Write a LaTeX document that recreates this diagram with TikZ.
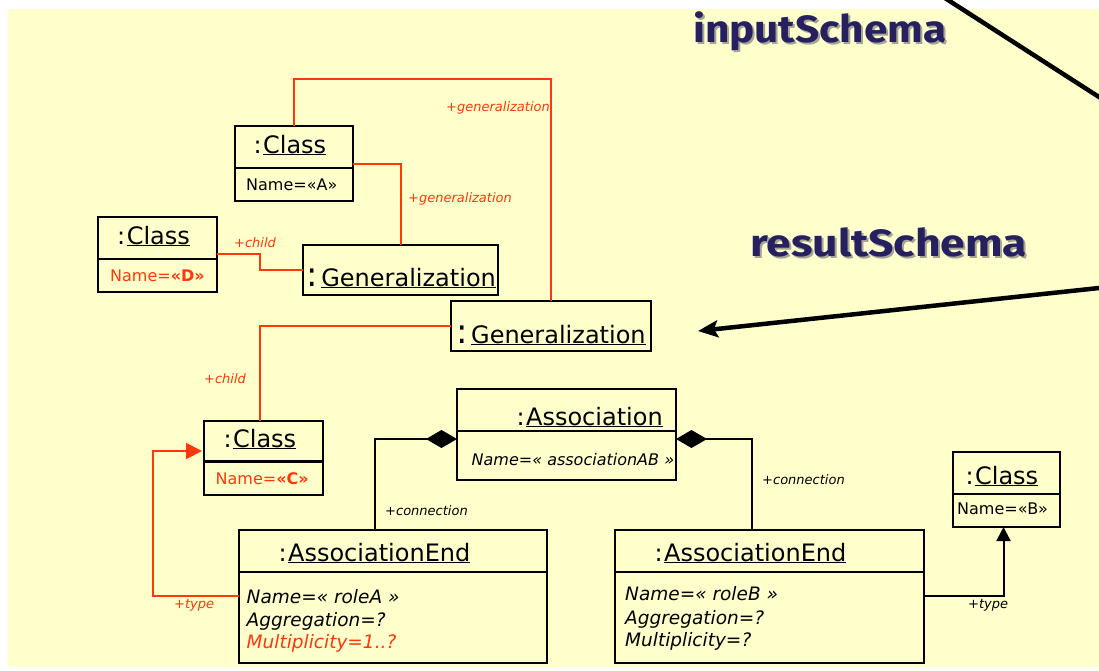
\documentclass[tikz,border=0pt]{standalone}
\usepackage{fontspec}
\setmainfont{DejaVu Sans}
\newfontfamily\titlefont{Fira Sans}
\usetikzlibrary{arrows.meta}
\definecolor{paper}{RGB}{255,255,204}
\definecolor{linkred}{RGB}{255,55,10}
\definecolor{navy}{RGB}{38,32,96}
\definecolor{shade}{RGB}{165,165,150}
% underlined object name with a heavier rule
\newcommand\uln[1]{\setbox0\hbox{#1}\rlap{\rule[-2.4pt]{\wd0}{1.5pt}}\box0}
\tikzset{
  classbox/.style={draw=black, line width=2.6pt, anchor=north west, inner sep=0pt, outer sep=0pt},
  objbox/.style={draw=black, line width=2pt, anchor=north west, inner sep=0pt, outer sep=0pt},
  hdr/.style={anchor=base west, inner sep=0pt, font=\fontsize{24}{26}\selectfont},
  attr/.style={anchor=base west, inner sep=0pt, font=\fontsize{16}{18}\selectfont},
  ital/.style={anchor=base west, inner sep=0pt, font=\fontsize{18.5}{20}\selectfont\itshape},
  smallital/.style={anchor=base west, inner sep=0pt, font=\fontsize{16}{20}\selectfont\itshape},
  role/.style={anchor=base west, inner sep=0pt, font=\fontsize{13}{14}\selectfont\itshape},
  redlink/.style={draw=linkred, line width=2pt},
  link/.style={draw=black, line width=2pt},
  title/.style={anchor=base west, inner sep=0pt, font=\titlefont\bfseries\fontsize{38}{40}\selectfont},
  bigline/.style={draw=black, line width=4.5pt}
}
\begin{document}
\begin{tikzpicture}[x=1pt,y=-1pt]
\fill[white] (0,0) rectangle (1099,670);
\useasboundingbox (0,0) rectangle (1099,670);
\fill[paper] (8,9) rectangle (1099,667);

% ---- titles
\node[title, text=shade] (inS) at (695,44) {\resizebox{253pt}{\height}{inputSchema}};
\node[title, text=navy] (in) at (693,42) {\resizebox{253pt}{\height}{inputSchema}};
\node[title, text=shade] (resS) at (752,258) {\resizebox{277pt}{\height}{resultSchema}};
\node[title, text=navy] (res) at (750,256) {\resizebox{277pt}{\height}{resultSchema}};

% ---- boxes
\node[classbox, minimum width=118pt, minimum height=75pt] (ca) at (235,126) {};
\draw[line width=2.6pt] ([yshift=-42pt]ca.north west) -- ([yshift=-42pt]ca.north east);
\node[classbox, minimum width=119pt, minimum height=75pt] (cd) at (98,217) {};
\draw[line width=2.6pt] ([yshift=-42pt]cd.north west) -- ([yshift=-42pt]cd.north east);
\node[objbox, minimum width=195pt, minimum height=50pt] (g1) at (303,245) {};
\node[objbox, minimum width=200pt, minimum height=50pt] (g2) at (451,301) {};
\node[classbox, minimum width=119pt, minimum height=74pt] (cc) at (204,421) {};
\draw[line width=2.6pt] ([yshift=-40.5pt]cc.north west) -- ([yshift=-40.5pt]cc.north east);
\node[objbox, minimum width=219pt, minimum height=91pt] (as) at (457,389) {};
\draw[line width=2pt] ([yshift=-42pt]as.north west) -- ([yshift=-42pt]as.north east);
\node[objbox, minimum width=308pt, minimum height=133pt] (ea) at (239,530) {};
\draw[line width=2pt] ([yshift=-42pt]ea.north west) -- ([yshift=-42pt]ea.north east);
\node[objbox, minimum width=309pt, minimum height=133pt] (eb) at (615,530) {};
\draw[line width=2pt] ([yshift=-42pt]eb.north west) -- ([yshift=-42pt]eb.north east);
\node[classbox, minimum width=107pt, minimum height=75pt] (cb) at (953,452) {};
\draw[line width=2.6pt] ([yshift=-42pt]cb.north west) -- ([yshift=-42pt]cb.north east);

% ---- headers
\node[hdr] (caH) at (253.3,153) {:\kern1.5pt\uln{Class}};
\node[hdr] (cdH) at (117,244) {:\kern1.5pt\uln{Class}};
\node[hdr] (ccH) at (223.3,447) {:\kern1.5pt\uln{Class}};
\node[hdr] (cbH) at (965.3,484) {:\kern1.5pt\uln{Class}};
\node[hdr] (asH) at (516.3,425) {:\kern1.5pt\uln{Association}};
\node[hdr] (eaH) at (278.3,561) {:\kern1.5pt\uln{AssociationEnd}};
\node[hdr] (ebH) at (654.3,561) {:\kern1.5pt\uln{AssociationEnd}};
\node[hdr] (g1H) at (306.7,286) {{\fontsize{34}{34}\selectfont:}\kern3pt\uln{Generalization}};
\node[hdr] (g2H) at (456,343) {{\fontsize{34}{34}\selectfont:}\kern3.5pt\uln{Generalization}};

% ---- attributes
\node[attr] (caA) at (246,190.5) {Name=«A»};
\node[attr, text=linkred] (cdA) at (110,281) {Name=\textbf{«D»}};
\node[attr, text=linkred] (ccA) at (215.5,484) {Name=\textbf{«C»}};
\node[attr] (cbA) at (957,514) {Name=«B»};
\node[smallital] (asA) at (471.5,465) {Name=« associationAB »};
\node[ital] (eaA1) at (246.5,603) {Name=« roleA »};
\node[ital] (eaA2) at (246.5,626) {Aggregation=?};
\node[ital, text=linkred] (eaA3) at (246.5,648) {Multiplicity=1..?};
\node[ital] (ebA1) at (625,600.5) {Name=« roleB »};
\node[ital] (ebA2) at (625,624) {Aggregation=?};
\node[ital] (ebA3) at (625,646.5) {Multiplicity=?};

% ---- generalization links
\draw[redlink] ([xshift=58.6pt]ca.north west) |- (551,79) -- (g2.north);
\draw[redlink] ([yshift=-38pt]ca.north east) -| (g1.north);
\draw[redlink] ([yshift=-37pt]cd.north east) -- (260,254) |- (g1.west);
\draw[redlink] (g2.west) -| ([xshift=56pt]cc.north west);
\draw[redlink, -{Triangle[length=16pt,width=16pt]}, shorten >=2pt]
  ([yshift=-66pt]ea.north west) -| (153,451) -- ([yshift=-30pt]cc.north west);

% ---- association links
\draw[link, {Diamond[length=31pt,width=18pt]}-] ([yshift=-50pt]as.north west) -| ([xshift=136pt]ea.north west);
\draw[link, {Diamond[length=31pt,width=18pt]}-] ([yshift=-50pt]as.north east) -| ([xshift=136.5pt]eb.north west);
\draw[link, -{Triangle[length=14pt,width=14pt]}] ([yshift=-66pt]eb.north east) -| ([xshift=50.5pt]cb.south west);

% ---- role labels
\node[role, text=linkred] (l1) at (446,111.5) {+generalization};
\node[role, text=linkred] (l2) at (408,202.5) {+generalization};
\node[role, text=linkred] (l3) at (234,247.5) {+child};
\node[role, text=linkred] (l4) at (204,383) {+child};
\node[role, text=linkred] (l5) at (174,608) {+type};
\node[role] (l6) at (385,515.5) {+connection};
\node[role] (l7) at (762,484) {+connection};
\node[role] (l8) at (968,608.5) {+type};

% ---- schema pointers
\coordinate (in1) at (948,0);
\coordinate (in2) at (1099,97);
\draw[bigline, shorten <=-6pt, shorten >=-6pt] (in1) -- (in2);
\coordinate (rs1) at (1099,288);
\coordinate (rs2) at (698,331);
\draw[bigline, shorten <=-6pt, -{Stealth[length=20pt,width=17pt,inset=4pt]}] (rs1) -- (rs2);
\end{tikzpicture}
\end{document}
